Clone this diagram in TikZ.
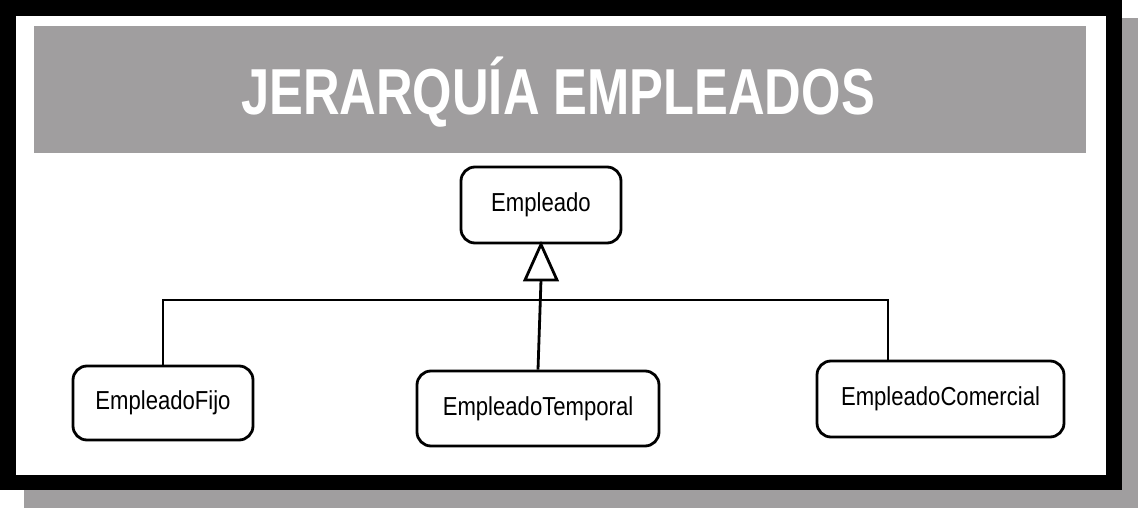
\documentclass[tikz,border=0pt]{standalone}
\usepackage{fontspec}
\setmainfont{Liberation Sans}
\newfontfamily\titlefont[FakeStretch=0.78]{Liberation Sans}
\newfontfamily\boxfont[FakeStretch=0.85]{Liberation Sans}
\definecolor{bandgrey}{RGB}{160,158,159}
\begin{document}
\begin{tikzpicture}[x=1pt,y=-1pt,
  cls/.style={draw,line width=2.8pt,rounded corners=14pt,fill=white,inner sep=0pt,font=\boxfont\fontsize{26}{30}\selectfont},
  conn/.style={line width=2.8pt}]
\useasboundingbox (0,0) rectangle (1138,508);
\fill[bandgrey] (24,18) rectangle (1138,508);
\fill[black] (0,0) rectangle (1122,490);
\fill[white] (16,16) rectangle (1106,475);
\fill[bandgrey] (34,26) rectangle (1086,153);
\node[text=white,font=\titlefont\bfseries\fontsize{65}{70}\selectfont] (title) at (558,92) {JERARQUÍA EMPLEADOS};
\node[cls,minimum width=160pt,minimum height=76pt] (emp) at (541,205) {Empleado};
\node[cls,minimum width=180pt,minimum height=74pt] (fijo) at (163,403) {EmpleadoFijo};
\node[cls,minimum width=242pt,minimum height=75pt] (temp) at (538,408.5) {EmpleadoTemporal};
\node[cls,minimum width=247pt,minimum height=76pt] (com) at (940.5,399) {EmpleadoComercial};
\coordinate (tb) at (541,280);
\draw[conn] (fijo.north) -- (163,300) -- (888,300) -- (888,361);
\draw[conn] (temp.north) -- (tb);
\draw[conn,line join=miter,fill=white] (emp.south) -- (557,280) -- (525,280) -- cycle;
\end{tikzpicture}
\end{document}
